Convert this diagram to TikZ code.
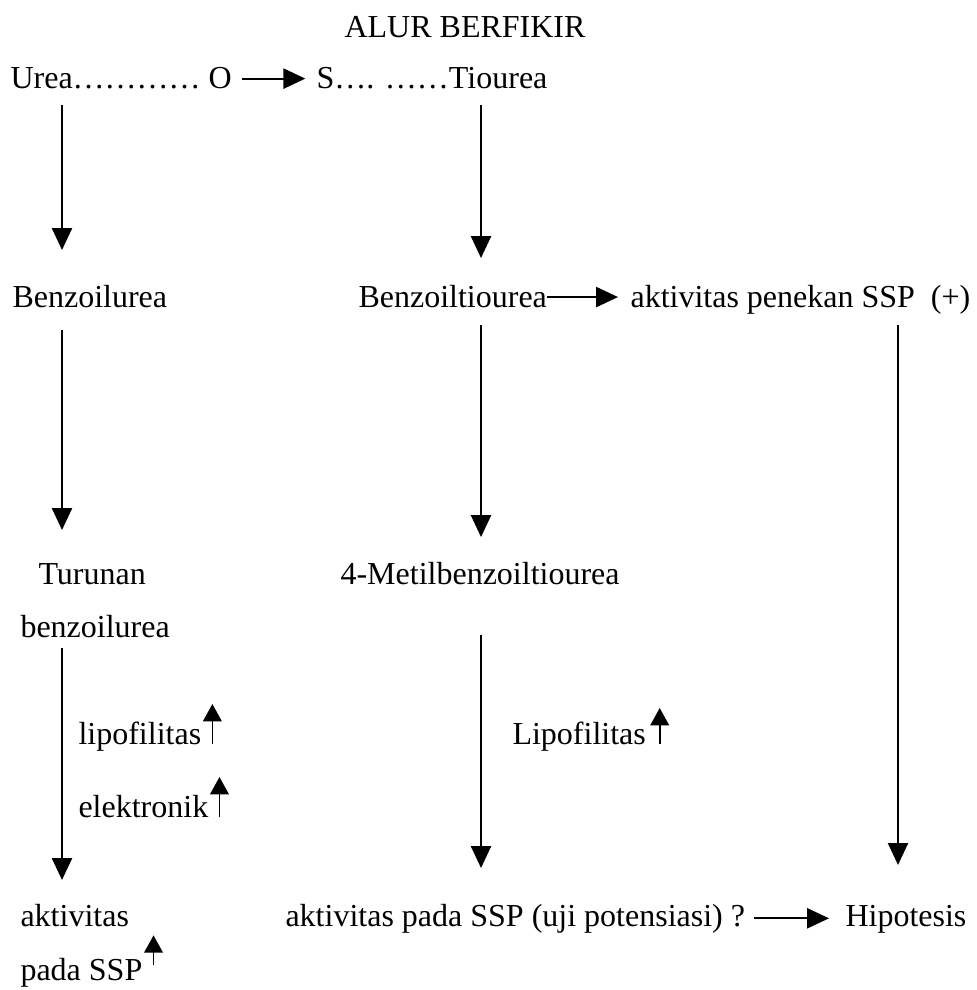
\documentclass[tikz,border=0pt]{standalone}
\usepackage{fontspec}
\setmainfont{Liberation Serif}
\usepackage{tikz}
\usetikzlibrary{arrows.meta}

\begin{document}
\begin{tikzpicture}[x=0.375pt,y=-0.375pt,
        txt/.style={anchor=base west,inner sep=0pt,font=\fontsize{12}{14}\selectfont},
        arr/.style={line width=0.8pt,-{Triangle[length=8.2pt,width=7.5pt]}},
        naik/.style={line width=0.6pt,-{Triangle[length=6.5pt,width=7pt]}}]
        \useasboundingbox (0,0) rectangle (976,990);
        \coordinate (colL) at (62,0);
        \coordinate (colM) at (481,0);
        \coordinate (colR) at (898,0);
        \node[txt,anchor=base] (judul) at (465,38) {ALUR BERFIKIR};
        \node[txt] (urea) at (10,89) {Urea………… O};
        \node[txt] (tiourea) at (316,89) {S…. ……Tiourea};
        \node[txt] (benzu) at (12,308) {Benzoilurea};
        \node[txt] (benztu) at (358,308) {Benzoiltiourea};
        \node[txt] (penekan) at (630,308) {aktivitas penekan SSP\ \ (+)};
        \node[txt] (turunan) at (38,584) {Turunan};
        \node[txt] (turunanb) at (20,637) {benzoilurea};
        \node[txt] (metil) at (340,584) {4-Metilbenzoiltiourea};
        \node[txt] (lipo) at (78,744) {lipofilitas};
        \node[txt] (elek) at (78,817) {elektronik};
        \node[txt] (lipom) at (512,744) {Lipofilitas};
        \node[txt] (aktiv) at (20,926) {aktivitas};
        \node[txt] (pada) at (20,980) {pada SSP};
        \node[txt] (potensi) at (285,926) {aktivitas pada SSP (uji potensiasi) ?};
        \node[txt] (hipo) at (845,926) {Hipotesis};
        \draw[arr] ([xshift=3.5pt]urea.east) -- ([xshift=-4pt]urea.east -| tiourea.west);
        \draw[arr] (benztu.east) -- ([xshift=-4.5pt]benztu.east -| penekan.west);
        \draw[arr] ([xshift=3pt]potensi.east) -- ([xshift=-6pt]potensi.east -| hipo.west);
        \draw[arr] ([yshift=-6pt]urea.base -| colL) -- ([yshift=21.75pt]benzu.base -| colL);
        \draw[arr] ([yshift=-6pt]tiourea.base -| colM) -- ([yshift=18.75pt]benztu.base -| colM);
        \draw[arr] ([yshift=-8.25pt]benzu.base -| colL) -- ([yshift=20.25pt]turunan.base -| colL);
        \draw[arr] ([yshift=-6.4pt]benztu.base -| colM) -- ([yshift=17.6pt]metil.base -| colM);
        \draw[arr] ([yshift=-6.4pt]penekan.base -| colR) -- ([yshift=22.9pt]hipo.base -| colR);
        \draw[arr] ([yshift=-4.1pt]turunanb.base -| colL) -- ([yshift=17.25pt]aktiv.base -| colL);
        \draw[arr] ([yshift=-19.1pt]metil.base -| colM) -- ([yshift=21.75pt]potensi.base -| colM);
        \draw[naik] ([xshift=4pt]lipo.base east) -- ++(0,-40);
        \draw[naik] ([xshift=4pt]elek.base east) -- ++(0,-40);
        \draw[naik] ([xshift=5pt]lipom.base east) -- ++(0,-36);
        \draw[naik] ([xshift=4pt,yshift=5.5pt]pada.base east) -- ++(0,-30);
\end{tikzpicture}
\end{document}
